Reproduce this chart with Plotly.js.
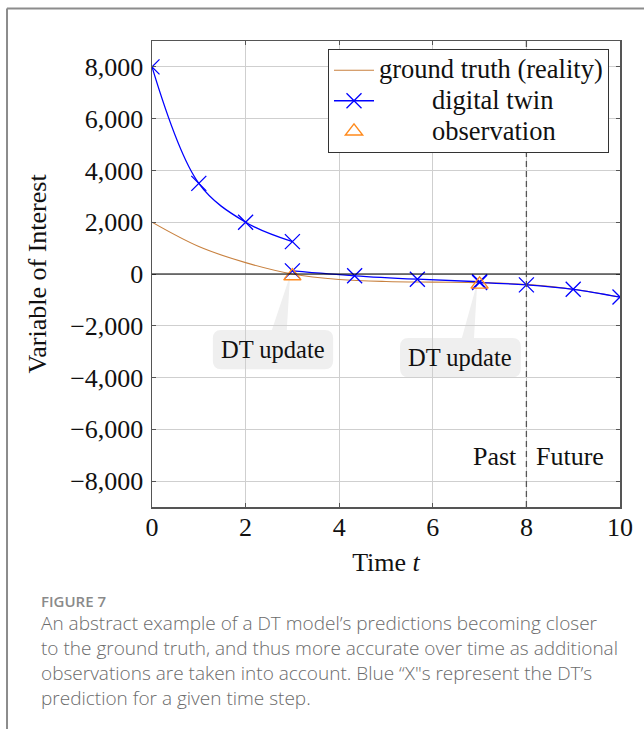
<!DOCTYPE html>
<html>
<head>
<meta charset="utf-8">
<script src="https://cdn.plot.ly/plotly-3.0.1.min.js"></script>
<style>
  html, body { margin: 0; padding: 0; background: #fff; }
  #chart { width: 644px; height: 729px; }
</style>
</head>
<body>
<div id="chart"></div>
<script>
// ---- data ----
const truthT = [0, 1, 2, 3, 4, 5, 6, 7, 8, 9, 10];
const truthY = [2000, 1060, 440, 0, -210, -290, -315, -335, -400, -590, -890];

const twinT1 = [0, 1, 2, 3];
const twinY1 = [8000, 3500, 2000, 1250];
const twinT2 = [3, 4.33, 5.67, 7];
const twinY2 = [120, -70, -200, -300];
const twinT3 = [7, 8, 9, 10];
const twinY3 = [-330, -420, -590, -890];

const obsT = [3, 7];
const obsY = [-80, -400];

const yTicks = [-8000, -6000, -4000, -2000, 0, 2000, 4000, 6000, 8000];
const xTicks = [0, 2, 4, 6, 8, 10];

const seriesNames = ["ground truth (reality)", "digital twin", "observation"];
const calloutText = ["DT update", "DT update"];
const pastLabel = "Past";
const futureLabel = "Future";
const captionHead = "FIGURE 7";
const captionLines = [
  "An abstract example of a DT model\u2019s predictions becoming closer",
  "to the ground truth, and thus more accurate over time as additional",
  "observations are taken into account. Blue \u201cX\"s represent the DT\u2019s",
  "prediction for a given time step."
];

// ---- styles ----
const SERIF = "Liberation Serif, Times New Roman, serif";
const FS = 26;
const truthColor = "#c8813f";
const twinColor = "#0000ff";
const obsColor = "#ff8a1c";
const nb = "\u00a0";
const pad = nb.repeat(8);
const big = (s) => `<span style="font-size:26.5px">${s}</span>`;

const twinStyle = {
  mode: "lines+markers",
  line: { color: twinColor, width: 1.3, shape: "spline", smoothing: 1 },
  marker: { symbol: "x-thin-open", size: 15, line: { color: twinColor, width: 1.3 }, color: twinColor }
};

const traces = [
  { x: truthT, y: truthY, mode: "lines", name: big(seriesNames[0]),
    line: { color: truthColor, width: 1.1, shape: "spline", smoothing: 1 } },
  Object.assign({ x: twinT1, y: twinY1, name: big(pad + seriesNames[1]), legendgroup: "twin" }, twinStyle),
  Object.assign({ x: twinT2, y: twinY2, name: "dt2", legendgroup: "twin", showlegend: false }, twinStyle),
  Object.assign({ x: twinT3, y: twinY3, name: "dt3", legendgroup: "twin", showlegend: false }, twinStyle),
  { x: obsT, y: obsY, mode: "markers", name: big(pad + seriesNames[2]),
    marker: { symbol: "triangle-up-open", size: 15, color: obsColor, line: { color: obsColor, width: 1.4 } } }
];

function roundRect(x0, x1, y0, y1, rx, ry) {
  return `M${x0 + rx},${y1} L${x1 - rx},${y1} Q${x1},${y1} ${x1},${y1 - ry} ` +
         `L${x1},${y0 + ry} Q${x1},${y0} ${x1 - rx},${y0} L${x0 + rx},${y0} ` +
         `Q${x0},${y0} ${x0},${y0 + ry} L${x0},${y1 - ry} Q${x0},${y1} ${x0 + rx},${y1} Z`;
}

const boxFill = "#efefef";
const shapes = [
  { type: "line", xref: "paper", x0: 0, x1: 1, yref: "y", y0: 0, y1: 0,
    line: { color: "#000", width: 1.2 }, layer: "above" },
  { type: "line", xref: "x", x0: 8, x1: 8, yref: "paper", y0: 0, y1: 1,
    line: { color: "#555", width: 1.3, dash: "6px,4px" } },
  { type: "path", xref: "x", yref: "y", path: "M2.95,-60 L2.56,-2170 L2.88,-2170 Z",
    fillcolor: boxFill, line: { width: 0 }, layer: "below" },
  { type: "path", xref: "x", yref: "y", path: "M6.95,-330 L6.62,-2480 L6.88,-2480 Z",
    fillcolor: boxFill, line: { width: 0 }, layer: "below" },
  { type: "path", xref: "x", yref: "y", path: roundRect(1.30, 3.87, -3680, -2160, 0.18, 330),
    fillcolor: boxFill, line: { width: 0 }, layer: "below" },
  { type: "path", xref: "x", yref: "y", path: roundRect(5.30, 7.88, -3990, -2470, 0.18, 330),
    fillcolor: boxFill, line: { width: 0 }, layer: "below" },
  { type: "line", xref: "paper", yref: "paper", x0: -0.31, x1: 1.1, y0: 1.0695, y1: 1.0695,
    line: { color: "#8c8c8c", width: 2 } },
  { type: "line", xref: "paper", yref: "paper", x0: -0.3098, x1: -0.3098, y0: 1.07, y1: -0.5,
    line: { color: "#8c8c8c", width: 2 } }
];

const serifFont = { family: SERIF, size: FS, color: "#111" };
const calloutFont = { family: SERIF, size: 24.5, color: "#111" };
const annotations = [
  { x: (1.30 + 3.87) / 2, y: -2920, xref: "x", yref: "y", text: calloutText[0], showarrow: false, font: calloutFont },
  { x: (5.30 + 7.88) / 2, y: -3230, xref: "x", yref: "y", text: calloutText[1], showarrow: false, font: calloutFont },
  { x: 7.84, y: -7050, xref: "x", yref: "y", text: pastLabel, showarrow: false, xanchor: "right", font: serifFont },
  { x: 8.17, y: -7050, xref: "x", yref: "y", text: futureLabel, showarrow: false, xanchor: "left", font: serifFont },
  { x: -0.2415, y: -0.2017, xref: "paper", yref: "paper", xanchor: "left", yanchor: "middle",
    text: captionHead, showarrow: false,
    font: { family: "Open Sans, Lato, sans-serif", size: 15, color: "#8a8a8a", weight: 600 } }
];
captionLines.forEach((ln, i) => {
  annotations.push({ x: -0.2415, y: -0.249 - i * 0.0536, xref: "paper", yref: "paper",
    xanchor: "left", yanchor: "middle", text: ln, showarrow: false,
    font: { family: "Open Sans, Lato, sans-serif", size: 19, color: "#6b6b6b", weight: 300 } });
});

const axisCommon = {
  showgrid: true, gridcolor: "#cfcfcf", gridwidth: 1,
  zeroline: false, showline: true, linecolor: "#555", linewidth: 1.5, mirror: "ticks",
  ticks: "inside", ticklen: 4, tickcolor: "#555",
  tickfont: serifFont
};

const layout = {
  width: 644, height: 729,
  margin: { l: 152, r: 24, t: 41, b: 222 },
  paper_bgcolor: "#fff", plot_bgcolor: "#fff",
  showlegend: true,
  legend: {
    x: 0.9765, xanchor: "right", y: 0.983, yanchor: "top",
    bgcolor: "#fff", bordercolor: "#333", borderwidth: 1,
    font: { family: SERIF, size: 21.2, color: "#111" },
    tracegroupgap: 0, itemwidth: 40
  },
  xaxis: Object.assign({}, axisCommon, {
    range: [0, 10], tickvals: xTicks, ticktext: xTicks.map(String), ticklabelstandoff: -4,
    title: { text: "Time <i>t</i>", font: serifFont, standoff: 12 }
  }),
  yaxis: Object.assign({}, axisCommon, {
    range: [-9000, 9000], tickvals: yTicks, tickformat: ",", ticklabelstandoff: 2,
    title: { text: "Variable of Interest", font: serifFont, standoff: 16 }
  }),
  shapes: shapes,
  annotations: annotations
};

Plotly.newPlot("chart", traces, layout, { displayModeBar: false, staticPlot: true });
</script>
</body>
</html>
